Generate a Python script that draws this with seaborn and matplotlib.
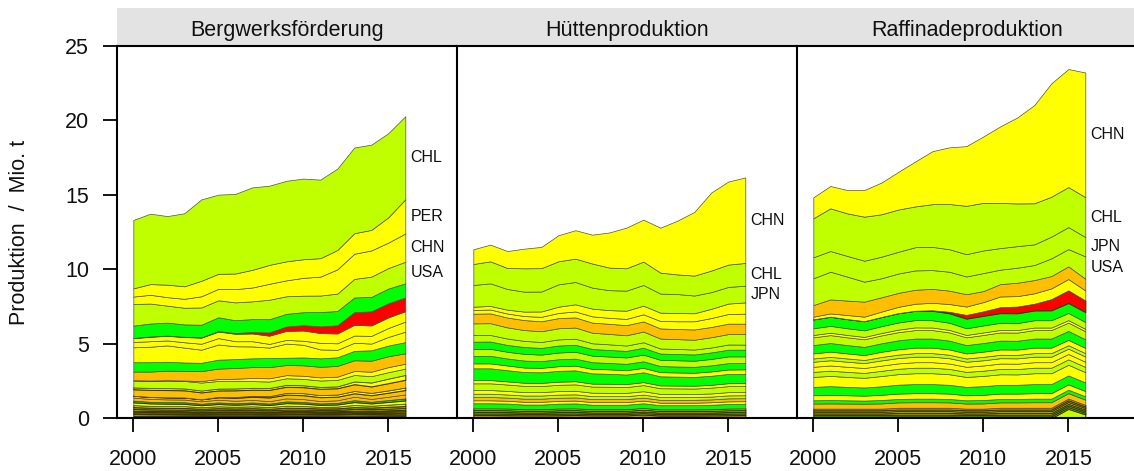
import matplotlib
matplotlib.use("Agg")
import matplotlib.pyplot as plt
import pandas as pd
import seaborn as sns
from matplotlib.patches import Rectangle

# ---------------------------------------------------------------- data
years = [2000, 2001, 2002, 2003, 2004, 2005, 2006, 2007, 2008,
         2009, 2010, 2011, 2012, 2013, 2014, 2015, 2016]

G, YG, Y, O, R = "#00FF00", "#BFFF00", "#FFFF00", "#FFBF00", "#FF0000"

panel_names = ["Bergwerksförderung", "Hüttenproduktion", "Raffinadeproduktion"]

# --- Bergwerksförderung (layers listed top -> bottom)
mine_codes = ["CHL", "PER", "CHN", "USA", "AUS", "COD", "ZMB", "MEX", "IDN", "CAN", "RUS",
              "BRA", "POL", "MNG", "KAZ", "LAO", "IRN",
              "VNM", "SRB", "ARM", "MMR", "PHL", "PNG", "ARG", "TUR", "ZAF", "BGR", "SWE", "PRT", "ESP"]
mine_colors = [YG, Y, Y, YG, G, R, Y, Y, Y, G, O,
               Y, YG, Y, O, Y, O,
               O, G, Y, YG, O, Y, YG, O, G, Y, O, YG, R]
mine_values = [
    [4.60, 4.73, 4.61, 4.91, 5.47, 5.32, 5.35, 5.54, 5.32, 5.41, 5.42, 5.28, 5.47, 5.76, 5.73, 5.65, 5.58],
    [0.55, 0.72, 0.84, 0.84, 1.04, 1.01, 1.05, 1.19, 1.27, 1.28, 1.25, 1.24, 1.30, 1.38, 1.38, 1.70, 2.30],
    [0.50, 0.59, 0.57, 0.60, 0.75, 0.77, 0.89, 0.93, 1.07, 1.07, 1.20, 1.27, 1.63, 1.69, 1.76, 1.71, 1.90],
    [1.45, 1.34, 1.14, 1.12, 1.16, 1.14, 1.20, 1.19, 1.31, 1.18, 1.11, 1.11, 1.17, 1.25, 1.36, 1.38, 1.45],
    [0.83, 0.87, 0.87, 0.83, 0.85, 0.93, 0.86, 0.87, 0.89, 0.85, 0.87, 0.96, 0.96, 0.99, 0.97, 0.99, 0.95],
    [0.02, 0.02, 0.02, 0.02, 0.02, 0.03, 0.05, 0.10, 0.22, 0.30, 0.36, 0.45, 0.55, 0.85, 0.95, 0.95, 0.92],
    [0.25, 0.30, 0.31, 0.35, 0.41, 0.44, 0.50, 0.52, 0.55, 0.60, 0.69, 0.66, 0.66, 0.72, 0.70, 0.71, 0.70],
    [0.36, 0.37, 0.33, 0.36, 0.40, 0.43, 0.34, 0.35, 0.25, 0.25, 0.27, 0.44, 0.44, 0.48, 0.52, 0.60, 0.68],
    [1.00, 1.04, 1.10, 1.00, 0.88, 1.02, 0.86, 0.80, 0.70, 0.95, 0.85, 0.60, 0.50, 0.55, 0.45, 0.58, 0.70],
    [0.63, 0.63, 0.60, 0.56, 0.56, 0.60, 0.60, 0.59, 0.61, 0.49, 0.53, 0.57, 0.58, 0.63, 0.70, 0.72, 0.75],
    [0.58, 0.60, 0.64, 0.65, 0.67, 0.70, 0.72, 0.73, 0.75, 0.68, 0.70, 0.71, 0.72, 0.72, 0.74, 0.73, 0.70],
    [0.03, 0.03, 0.03, 0.03, 0.10, 0.13, 0.15, 0.21, 0.22, 0.21, 0.21, 0.21, 0.22, 0.27, 0.30, 0.34, 0.33],
    [0.45, 0.47, 0.50, 0.50, 0.53, 0.51, 0.50, 0.45, 0.43, 0.44, 0.43, 0.43, 0.43, 0.43, 0.42, 0.43, 0.42],
    [0.13, 0.13, 0.13, 0.13, 0.13, 0.13, 0.13, 0.13, 0.13, 0.13, 0.13, 0.13, 0.13, 0.19, 0.27, 0.31, 0.33],
    [0.43, 0.47, 0.49, 0.48, 0.46, 0.43, 0.45, 0.41, 0.42, 0.41, 0.40, 0.42, 0.42, 0.45, 0.43, 0.48, 0.52],
    [0.00, 0.00, 0.00, 0.00, 0.00, 0.03, 0.06, 0.06, 0.09, 0.12, 0.14, 0.14, 0.15, 0.16, 0.16, 0.16, 0.17],
    [0.13, 0.14, 0.14, 0.14, 0.14, 0.16, 0.19, 0.21, 0.25, 0.25, 0.26, 0.26, 0.24, 0.23, 0.25, 0.27, 0.30],
    [0.20, 0.19, 0.18, 0.18, 0.16, 0.18, 0.17, 0.17, 0.16, 0.20, 0.19, 0.16, 0.17, 0.23, 0.19, 0.22, 0.26],
    [0.12, 0.11, 0.11, 0.11, 0.10, 0.11, 0.10, 0.11, 0.10, 0.12, 0.11, 0.10, 0.11, 0.13, 0.11, 0.13, 0.14],
    [0.18, 0.16, 0.15, 0.15, 0.13, 0.15, 0.13, 0.15, 0.13, 0.17, 0.16, 0.13, 0.14, 0.19, 0.15, 0.18, 0.21],
    [0.14, 0.13, 0.13, 0.13, 0.11, 0.13, 0.12, 0.13, 0.12, 0.14, 0.13, 0.11, 0.12, 0.15, 0.13, 0.15, 0.17],
    [0.12, 0.11, 0.11, 0.11, 0.10, 0.11, 0.10, 0.11, 0.10, 0.12, 0.11, 0.10, 0.10, 0.12, 0.11, 0.12, 0.13],
    [0.11, 0.10, 0.10, 0.10, 0.09, 0.10, 0.09, 0.10, 0.09, 0.10, 0.10, 0.09, 0.09, 0.11, 0.10, 0.11, 0.12],
    [0.08, 0.08, 0.08, 0.08, 0.07, 0.07, 0.07, 0.07, 0.07, 0.08, 0.08, 0.07, 0.07, 0.08, 0.08, 0.08, 0.09],
    [0.10, 0.09, 0.09, 0.09, 0.08, 0.09, 0.09, 0.09, 0.08, 0.09, 0.09, 0.08, 0.08, 0.09, 0.08, 0.09, 0.10],
    [0.06, 0.06, 0.06, 0.06, 0.06, 0.06, 0.06, 0.06, 0.06, 0.06, 0.06, 0.06, 0.06, 0.06, 0.06, 0.06, 0.06],
    [0.12, 0.11, 0.11, 0.10, 0.09, 0.10, 0.10, 0.10, 0.09, 0.10, 0.10, 0.09, 0.09, 0.10, 0.09, 0.10, 0.11],
    [0.09, 0.09, 0.08, 0.08, 0.08, 0.08, 0.08, 0.08, 0.08, 0.09, 0.09, 0.09, 0.09, 0.09, 0.08, 0.08, 0.08],
    [0.05, 0.05, 0.05, 0.05, 0.05, 0.05, 0.05, 0.05, 0.05, 0.05, 0.05, 0.05, 0.05, 0.05, 0.05, 0.05, 0.05],
    [0.00, 0.00, 0.00, 0.00, 0.00, 0.00, 0.00, 0.00, 0.00, 0.00, 0.00, 0.01, 0.02, 0.03, 0.05, 0.06, 0.06],
]
mine_labels = ["CHL", "PER", "CHN", "USA"]

# --- Hüttenproduktion (top -> bottom)
smelt_codes = ["CHN", "CHL", "JPN", "IND", "ZMB", "RUS", "USA", "POL", "AUS", "KOR", "DEU", "KAZ",
               "CAN", "IDN", "ESP", "PER", "BGR", "IRN", "MEX", "SWE",
               "FIN", "BRA", "NAM", "TUR", "ZAF", "BWA"]
smelt_colors = [Y, YG, YG, Y, Y, O, YG, YG, G, YG, G, Y,
                G, Y, YG, Y, YG, O, Y, G,
                YG, O, G, Y, O, YG]
smelt_values = [
    [0.99, 1.12, 1.14, 1.32, 1.43, 1.75, 1.91, 1.94, 2.36, 2.73, 2.82, 3.02, 3.61, 4.28, 5.25, 5.58, 5.75],
    [1.41, 1.48, 1.41, 1.57, 1.57, 1.55, 1.57, 1.62, 1.52, 1.50, 1.57, 1.41, 1.32, 1.34, 1.45, 1.50, 1.53],
    [1.46, 1.52, 1.39, 1.34, 1.34, 1.50, 1.50, 1.41, 1.34, 1.35, 1.39, 1.28, 1.28, 1.19, 1.12, 1.12, 1.12],
    [0.22, 0.24, 0.26, 0.30, 0.36, 0.42, 0.48, 0.52, 0.52, 0.55, 0.58, 0.56, 0.55, 0.54, 0.62, 0.70, 0.76],
    [0.25, 0.26, 0.27, 0.27, 0.30, 0.35, 0.40, 0.42, 0.40, 0.42, 0.48, 0.50, 0.52, 0.55, 0.60, 0.65, 0.67],
    [0.65, 0.66, 0.66, 0.67, 0.67, 0.68, 0.68, 0.68, 0.68, 0.68, 0.68, 0.68, 0.68, 0.69, 0.69, 0.70, 0.70],
    [0.78, 0.79, 0.75, 0.73, 0.72, 0.75, 0.75, 0.71, 0.70, 0.69, 0.72, 0.67, 0.66, 0.66, 0.69, 0.70, 0.71],
    [0.45, 0.44, 0.43, 0.41, 0.40, 0.41, 0.41, 0.38, 0.38, 0.36, 0.37, 0.34, 0.34, 0.33, 0.33, 0.35, 0.34],
    [0.49, 0.49, 0.46, 0.46, 0.45, 0.47, 0.47, 0.45, 0.44, 0.44, 0.46, 0.42, 0.42, 0.42, 0.44, 0.45, 0.45],
    [0.47, 0.47, 0.45, 0.45, 0.44, 0.45, 0.46, 0.44, 0.43, 0.43, 0.45, 0.42, 0.42, 0.41, 0.43, 0.45, 0.45],
    [0.50, 0.51, 0.47, 0.47, 0.45, 0.47, 0.47, 0.45, 0.43, 0.43, 0.44, 0.41, 0.40, 0.40, 0.41, 0.43, 0.42],
    [0.33, 0.33, 0.32, 0.30, 0.30, 0.31, 0.32, 0.30, 0.30, 0.29, 0.30, 0.28, 0.28, 0.28, 0.29, 0.30, 0.30],
    [0.79, 0.79, 0.75, 0.72, 0.71, 0.73, 0.73, 0.69, 0.67, 0.64, 0.66, 0.61, 0.60, 0.59, 0.61, 0.62, 0.62],
    [0.22, 0.22, 0.21, 0.21, 0.21, 0.21, 0.21, 0.20, 0.20, 0.20, 0.20, 0.19, 0.19, 0.19, 0.19, 0.20, 0.20],
    [0.45, 0.45, 0.43, 0.42, 0.41, 0.42, 0.43, 0.41, 0.41, 0.39, 0.41, 0.38, 0.37, 0.37, 0.39, 0.40, 0.40],
    [0.25, 0.25, 0.24, 0.23, 0.23, 0.24, 0.24, 0.23, 0.22, 0.22, 0.23, 0.21, 0.21, 0.20, 0.21, 0.22, 0.22],
    [0.22, 0.22, 0.21, 0.21, 0.21, 0.21, 0.21, 0.20, 0.20, 0.20, 0.20, 0.19, 0.19, 0.19, 0.19, 0.20, 0.20],
    [0.22, 0.22, 0.21, 0.21, 0.21, 0.21, 0.21, 0.20, 0.20, 0.20, 0.20, 0.19, 0.19, 0.19, 0.19, 0.20, 0.20],
    [0.20, 0.20, 0.19, 0.19, 0.19, 0.19, 0.19, 0.18, 0.18, 0.18, 0.18, 0.17, 0.17, 0.17, 0.17, 0.18, 0.18],
    [0.34, 0.34, 0.33, 0.31, 0.31, 0.32, 0.33, 0.30, 0.30, 0.30, 0.31, 0.28, 0.28, 0.28, 0.30, 0.30, 0.30],
    [0.12, 0.12, 0.12, 0.11, 0.11, 0.12, 0.12, 0.11, 0.11, 0.11, 0.12, 0.11, 0.11, 0.11, 0.11, 0.12, 0.12],
    [0.12, 0.12, 0.12, 0.11, 0.11, 0.12, 0.12, 0.11, 0.11, 0.11, 0.12, 0.11, 0.11, 0.11, 0.11, 0.12, 0.12],
    [0.11, 0.11, 0.11, 0.10, 0.10, 0.11, 0.11, 0.10, 0.10, 0.10, 0.11, 0.10, 0.10, 0.10, 0.10, 0.11, 0.11],
    [0.10, 0.10, 0.10, 0.09, 0.09, 0.10, 0.10, 0.09, 0.09, 0.09, 0.10, 0.09, 0.09, 0.09, 0.09, 0.10, 0.10],
    [0.12, 0.12, 0.11, 0.11, 0.11, 0.11, 0.12, 0.11, 0.11, 0.11, 0.14, 0.10, 0.10, 0.10, 0.11, 0.11, 0.12],
    [0.08, 0.08, 0.08, 0.07, 0.07, 0.08, 0.08, 0.07, 0.07, 0.07, 0.09, 0.07, 0.07, 0.07, 0.07, 0.08, 0.08],
]
smelt_labels = ["CHN", "CHL", "JPN"]

# --- Raffinadeproduktion (top -> bottom)
refin_codes = ["CHN", "CHL", "JPN", "USA", "RUS", "IND", "COD", "KOR",
               "POL", "ZMB", "DEU", "BEL", "KAZ", "ESP", "PER", "MEX", "BGR", "THA", "AUS", "IRN",
               "FIN", "TUR", "SWE", "BRA", "CAN", "IDN", "ZAF", "PHL", "EGY"]
refin_colors = [Y, YG, YG, YG, O, Y, R, G,
                YG, Y, YG, G, Y, YG, Y, Y, YG, Y, G, Y,
                G, O, O, YG, Y, O, G, Y, YG]
refin_values = [
    [1.41, 1.50, 1.57, 1.79, 2.13, 2.53, 3.02, 3.56, 3.81, 4.01, 4.46, 5.15, 5.78, 6.60, 7.62, 7.93, 8.38],
    [2.62, 2.87, 2.86, 2.96, 2.85, 2.84, 2.74, 2.87, 3.04, 3.25, 3.20, 3.03, 2.87, 2.76, 2.68, 2.69, 2.68],
    [1.41, 1.39, 1.39, 1.41, 1.45, 1.46, 1.56, 1.56, 1.51, 1.50, 1.52, 1.45, 1.45, 1.39, 1.46, 1.48, 1.30],
    [1.80, 1.86, 1.61, 1.34, 1.28, 1.30, 1.30, 1.26, 1.27, 1.19, 1.21, 0.97, 1.01, 1.01, 1.19, 1.16, 1.50],
    [0.78, 0.94, 0.97, 1.01, 0.96, 0.94, 0.94, 0.94, 0.90, 0.83, 0.74, 0.83, 0.90, 0.89, 0.83, 0.85, 0.79],
    [0.18, 0.22, 0.27, 0.30, 0.36, 0.42, 0.47, 0.50, 0.52, 0.56, 0.62, 0.72, 0.70, 0.70, 0.72, 0.76, 0.67],
    [0.00, 0.00, 0.00, 0.00, 0.00, 0.00, 0.00, 0.03, 0.10, 0.25, 0.30, 0.40, 0.45, 0.45, 0.75, 0.85, 0.78],
    [0.60, 0.62, 0.62, 0.62, 0.62, 0.63, 0.63, 0.64, 0.64, 0.65, 0.65, 0.65, 0.66, 0.66, 0.67, 0.67, 0.67],
    [0.45, 0.46, 0.45, 0.44, 0.46, 0.48, 0.49, 0.49, 0.48, 0.45, 0.47, 0.48, 0.47, 0.49, 0.49, 0.48, 0.46],
    [0.16, 0.16, 0.16, 0.16, 0.16, 0.17, 0.18, 0.17, 0.17, 0.16, 0.17, 0.17, 0.17, 0.17, 0.17, 0.17, 0.16],
    [0.52, 0.53, 0.52, 0.51, 0.53, 0.55, 0.57, 0.57, 0.55, 0.52, 0.54, 0.55, 0.55, 0.57, 0.57, 0.56, 0.54],
    [0.56, 0.58, 0.56, 0.55, 0.57, 0.60, 0.61, 0.61, 0.59, 0.56, 0.58, 0.59, 0.59, 0.61, 0.61, 0.60, 0.58],
    [0.34, 0.35, 0.34, 0.33, 0.35, 0.36, 0.37, 0.37, 0.36, 0.34, 0.35, 0.36, 0.36, 0.37, 0.37, 0.36, 0.35],
    [0.22, 0.23, 0.22, 0.21, 0.23, 0.23, 0.24, 0.24, 0.23, 0.22, 0.23, 0.23, 0.23, 0.24, 0.24, 0.23, 0.23],
    [0.34, 0.35, 0.34, 0.33, 0.35, 0.36, 0.37, 0.37, 0.36, 0.34, 0.35, 0.36, 0.36, 0.37, 0.37, 0.36, 0.35],
    [0.34, 0.35, 0.34, 0.33, 0.35, 0.36, 0.37, 0.37, 0.36, 0.34, 0.35, 0.36, 0.36, 0.37, 0.37, 0.36, 0.35],
    [0.34, 0.35, 0.34, 0.33, 0.35, 0.36, 0.37, 0.37, 0.36, 0.34, 0.35, 0.36, 0.36, 0.37, 0.37, 0.36, 0.35],
    [0.67, 0.69, 0.67, 0.65, 0.69, 0.71, 0.73, 0.73, 0.71, 0.67, 0.69, 0.71, 0.70, 0.73, 0.73, 0.72, 0.69],
    [0.56, 0.58, 0.56, 0.55, 0.57, 0.60, 0.61, 0.61, 0.59, 0.56, 0.58, 0.59, 0.59, 0.61, 0.61, 0.60, 0.58],
    [0.34, 0.35, 0.34, 0.33, 0.35, 0.36, 0.37, 0.37, 0.36, 0.34, 0.35, 0.36, 0.36, 0.37, 0.37, 0.36, 0.35],
    [0.22, 0.23, 0.22, 0.21, 0.23, 0.23, 0.24, 0.24, 0.23, 0.22, 0.23, 0.23, 0.23, 0.24, 0.24, 0.23, 0.23],
    [0.34, 0.35, 0.34, 0.33, 0.35, 0.36, 0.37, 0.37, 0.36, 0.34, 0.35, 0.36, 0.36, 0.37, 0.37, 0.36, 0.35],
    [0.11, 0.11, 0.11, 0.11, 0.11, 0.12, 0.12, 0.12, 0.12, 0.11, 0.11, 0.12, 0.12, 0.12, 0.12, 0.12, 0.11],
    [0.10, 0.10, 0.10, 0.10, 0.10, 0.11, 0.11, 0.11, 0.11, 0.10, 0.10, 0.11, 0.11, 0.11, 0.11, 0.11, 0.10],
    [0.11, 0.11, 0.11, 0.11, 0.11, 0.12, 0.12, 0.12, 0.12, 0.11, 0.11, 0.12, 0.12, 0.12, 0.12, 0.12, 0.11],
    [0.10, 0.10, 0.10, 0.10, 0.10, 0.11, 0.11, 0.11, 0.11, 0.10, 0.10, 0.11, 0.11, 0.11, 0.11, 0.11, 0.10],
    [0.11, 0.11, 0.11, 0.11, 0.11, 0.12, 0.12, 0.12, 0.12, 0.11, 0.11, 0.12, 0.12, 0.12, 0.12, 0.12, 0.11],
    [0.10, 0.10, 0.10, 0.10, 0.10, 0.11, 0.11, 0.11, 0.11, 0.10, 0.10, 0.11, 0.11, 0.11, 0.11, 0.11, 0.10],
    [0.00, 0.00, 0.00, 0.00, 0.00, 0.00, 0.00, 0.00, 0.00, 0.00, 0.00, 0.00, 0.00, 0.00, 0.00, 0.62, 0.25],
]
refin_labels = ["CHN", "CHL", "JPN", "USA"]

y_ticks = [0, 5, 10, 15, 20, 25]
x_ticks = [2000, 2005, 2010, 2015]

# ---------------------------------------------------------------- tidy frame
rows = []
panel_sets = [(panel_names[0], mine_codes, mine_colors, mine_values),
              (panel_names[1], smelt_codes, smelt_colors, smelt_values),
              (panel_names[2], refin_codes, refin_colors, refin_values)]
for pname, codes, colors, values in panel_sets:
    n = len(values)
    for k, (code, col, vals) in enumerate(zip(codes, colors, values)):
        for yr, v in zip(years, vals):
            rows.append({"panel": pname, "code": code, "color": col,
                         "order": n - 1 - k, "year": yr, "value": v})
df = pd.DataFrame(rows)
label_map = {panel_names[0]: mine_labels, panel_names[1]: smelt_labels,
             panel_names[2]: refin_labels}

EDGE = "#505050"
DARK_EDGE = "#3a3608"
FS = 15.5

sns.set_theme(style="ticks")
plt.rcParams["font.family"] = ["Liberation Sans", "DejaVu Sans"]


def stack_layers(data, **kws):
    ax = plt.gca()
    wide = data.pivot_table(index="year", columns="order", values="value").sort_index(axis=1)
    meta = data.drop_duplicates("order").set_index("order").sort_index()
    polys = ax.stackplot(wide.index.values, wide.T.values, colors=list(meta["color"]),
                         edgecolor=EDGE, linewidth=0.5)
    # thin layers at the bottom: darker outlines give the dense olive band
    for poly, o in zip(polys, wide.columns):
        if wide[o].max() < 0.15 or (wide[o].median() < 0.15):
            poly.set_edgecolor(DARK_EDGE)
            poly.set_linewidth(0.8)
    last = wide.loc[years[-1]]
    cum = last.cumsum()
    for code in label_map[data["panel"].iloc[0]]:
        o = meta.index[meta["code"] == code][0]
        ymid = cum[o] - last[o] / 2
        ax.text(years[-1] + 0.3, ymid, code, fontsize=11.5, ha="left", va="center",
                color="#111111")


g = sns.FacetGrid(df, col="panel", col_order=panel_names, height=4.71,
                  aspect=(11.34 / 3) / 4.71, sharex=True, sharey=True, despine=False)
g.map_dataframe(stack_layers)
g.set_axis_labels("", "")

fig = g.figure
fig.set_size_inches(11.34, 4.71)
fig.subplots_adjust(left=117 / 1134, right=1137 / 1134, bottom=1 - 418 / 471,
                    top=1 - 46 / 471, wspace=0)

strip_h = 38 / 372
for i, (ax, pname) in enumerate(zip(g.axes.flat, panel_names)):
    ax.set_title("")
    ax.set_xlim(1999.04, 2019.04)
    ax.set_ylim(0, 25)
    ax.set_xticks(x_ticks)
    ax.set_xticklabels([str(t) for t in x_ticks])
    ax.set_yticks(y_ticks)
    ax.set_yticklabels([str(t) for t in y_ticks])
    ax.set_facecolor("white")
    ax.grid(False)
    for side in ["left", "bottom", "top"]:
        ax.spines[side].set_visible(True)
        ax.spines[side].set_color("black")
        ax.spines[side].set_linewidth(1.5)
    ax.spines["right"].set_visible(False)
    ax.tick_params(axis="x", direction="out", length=10, width=1.3, labelsize=FS,
                   pad=12, colors="black", labelcolor="#111111")
    ax.tick_params(axis="y", direction="out", length=10, width=1.3, labelsize=FS,
                   pad=10, colors="black", labelcolor="#111111")
    if i > 0:
        ax.tick_params(axis="y", left=False, labelleft=False)
    else:
        ax.tick_params(axis="y", left=True, labelleft=True)
    ax.add_patch(Rectangle((0, 1), 1, strip_h, transform=ax.transAxes,
                           facecolor="#E3E3E3", edgecolor="none", clip_on=False, zorder=0))
    ax.text(0.5, 1 + 10 / 372, pname, transform=ax.transAxes, ha="center",
            va="baseline", fontsize=FS, color="#111111")

fig.text(20 / 1134, 1 - 232 / 471, "Produktion  /  Mio. t", rotation=90,
         ha="center", va="center", fontsize=FS, color="#111111")

fig.savefig("out.png", dpi=100)
